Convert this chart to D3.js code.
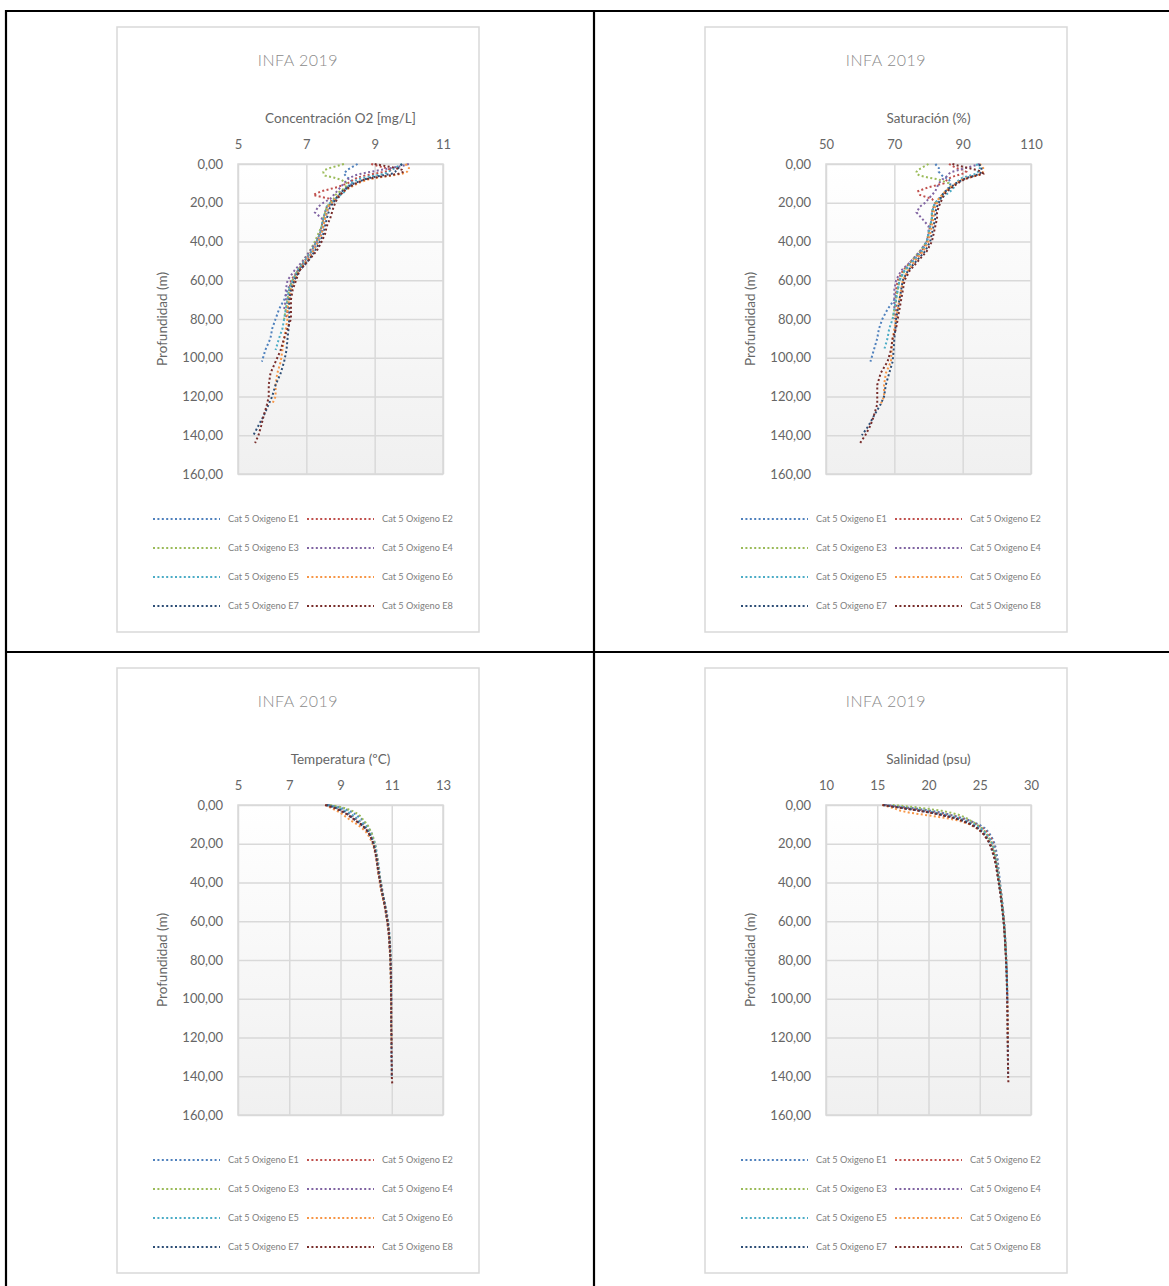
<!DOCTYPE html>
<meta charset="utf-8">
<style>
body { margin: 0; background: #fff; }
svg text { font-family: Lato, "Open Sans", sans-serif; fill: #666; }
.grid line { stroke: #d9d9d9; stroke-width: 1.5; }
.grid path { display: none; }
.ticks text { font-size: 13px; fill: #666; }
.ticks line, .ticks path { display: none; }
.serie { fill: none; stroke-width: 2; stroke-dasharray: 2,2.4; }
.legend text { font-size: 9.2px; fill: #808080; }
</style>
<svg class="chart"></svg>
<script src="https://d3js.org/d3.v7.min.js"></script>
<script>

var depths = [0,1,2,3,4,5,6,7,8,10,12,14,16,18,20,22,25,28,32,36,40,45,50,55,60,65,70,75,80,85,90,96,102,108,114,120,124,130,135,140,144];

var stations = ["Cat 5 Oxigeno E1","Cat 5 Oxigeno E2","Cat 5 Oxigeno E3","Cat 5 Oxigeno E4",
                "Cat 5 Oxigeno E5","Cat 5 Oxigeno E6","Cat 5 Oxigeno E7","Cat 5 Oxigeno E8"];
var colors = ["#4F81BD","#C0504D","#9BBB59","#8064A2","#4BACC6","#F79646","#2C4D75","#772C2A"];

// oxigeno disuelto mg/L, un arreglo por estacion (se corta donde termina el perfil)
var oxygen = [
  [8.5,8.4,8.3,8.2,8.15,8.1,8.15,8.2,8.3,8.35,8.2,8.05,7.95,7.85,7.75,7.65,7.6,7.55,7.5,7.45,7.35,7.2,7.0,6.75,6.6,6.45,6.35,6.2,6.1,6.0,5.95,5.8,5.7],
  [8.9,9.1,9.3,9.5,9.3,9.0,8.7,8.5,8.4,8.2,7.9,7.45,7.2,7.7,7.75,7.6,7.55,7.5,7.45,7.4,7.3,7.15,6.95,6.75,6.55,6.5,6.45,6.45,6.4],
  [8.1,7.9,7.7,7.55,7.5,7.5,7.55,7.8,8.0,8.2,8.15,8.0,7.85,7.8,7.7,7.6,7.55,7.5,7.45,7.35,7.25,7.1,6.9,6.75,6.6,6.5,6.45,6.4,6.35],
  [10.0,9.8,9.5,9.2,8.9,8.6,8.4,8.3,8.2,8.1,8.0,7.9,7.8,7.7,7.5,7.35,7.25,7.45,7.5,7.4,7.3,7.1,6.9,6.65,6.45,6.4,6.4,6.35],
  [9.8,9.7,9.6,9.5,9.4,9.3,9.0,8.7,8.5,8.3,8.2,8.15,8.0,7.85,7.7,7.6,7.55,7.5,7.45,7.4,7.3,7.15,6.95,6.75,6.6,6.5,6.45,6.4,6.35,6.3,6.2,6.1],
  [9.9,9.95,10.0,10.0,9.95,9.8,9.5,9.1,8.8,8.5,8.3,8.1,7.95,7.85,7.75,7.65,7.6,7.55,7.5,7.45,7.35,7.2,7.0,6.8,6.65,6.55,6.5,6.45,6.45,6.4,6.35,6.3,6.25,6.15,6.1,6.1,6.0],
  [9.8,9.75,9.7,9.65,9.6,9.5,9.2,8.9,8.7,8.4,8.2,8.05,7.95,7.85,7.8,7.7,7.65,7.6,7.55,7.5,7.4,7.25,7.05,6.8,6.65,6.55,6.5,6.5,6.5,6.48,6.45,6.42,6.35,6.25,6.1,6.0,5.9,5.75,5.6,5.45],
  [9.0,9.3,9.6,9.8,9.85,9.7,9.4,9.0,8.7,8.45,8.25,8.1,8.0,7.9,7.85,7.8,7.75,7.7,7.6,7.55,7.45,7.3,7.05,6.8,6.7,6.6,6.55,6.55,6.55,6.45,6.35,6.25,6.1,5.95,5.9,5.9,5.85,5.75,5.68,5.6,5.5]
];

// saturacion %
var saturation = [
  [82,82.5,83,83,83,83.5,84,85,86,86.5,86,85,84,83,82,81.5,81,81,80.5,80,79.5,78,75.5,73,71.5,71,70,68,66.5,65.5,65,64,63],
  [86,87,88,90,91,90,88,86.5,85.5,84.5,80,77,77.5,81,82,81.5,81,81,80.5,80,79.5,78,75,72.5,71,70.5,70.5,70.5,70],
  [80,79,78,77,76.5,76.5,77.5,80,83,86,86.5,85,84,83,82,81.5,81,81,80.5,80,79.5,77.5,75,73,71.5,71,70.5,70,69.5],
  [95,93,91,89,87,86,85.5,85,84,83,82.5,82,81,80,79,77.5,76.5,78,80,80,79.5,77.5,75,72,70.5,70,70,70],
  [94,94.5,95,95,94.5,94,92,90,89,88,87.5,86.5,85,83.5,82,81.5,81,81,80.5,80,79.5,78,75.5,73,71.5,71,70.5,70,69.5,68.5,68,67],
  [95,95.5,96,96,96,95.5,94,92,90,88,86.5,85,84,83,82.5,82,81.5,81.5,81,80.5,80,78.5,76,74,72.5,72,71.5,71,70.5,70,69.5,69.2,69,67.5,67,67,66],
  [95,95,95.5,95.5,95.5,95,93.5,91.5,90,88,86.5,85,84,83.5,83,82.5,82,82,81.5,81,80.5,79,76.5,74,72.5,72,71.5,71,70.5,70.3,70,69.8,69.5,68.5,67.5,67,66,64,62.5,60.5],
  [87,89,91.5,94,95.5,96,94,92,90.5,88.5,87,85.5,84.5,84,83.5,83,82.5,82.5,82,81.5,81,79.5,77,74.5,73,72.5,72,71.5,71,70.5,69.5,69,68,66,65,65,65,64,63,61.5,60]
];

// temperatura ºC
var temperature = [
  [8.55,8.9,9.15,9.35,9.5,9.6,9.7,9.8,9.85,10.0,10.1,10.2,10.25,10.3,10.35,10.38,10.42,10.45,10.5,10.53,10.58,10.65,10.72,10.8,10.86,10.9,10.93,10.95,10.96,10.97,10.98,10.98,10.99],
  [8.5,8.8,9.0,9.15,9.3,9.4,9.5,9.6,9.7,9.9,10.02,10.12,10.2,10.26,10.31,10.35,10.39,10.43,10.47,10.51,10.56,10.63,10.71,10.78,10.84,10.88,10.91,10.93,10.95],
  [8.6,9.0,9.25,9.45,9.6,9.7,9.8,9.85,9.9,10.05,10.12,10.2,10.26,10.3,10.34,10.37,10.4,10.44,10.48,10.52,10.57,10.64,10.71,10.78,10.84,10.89,10.92,10.94,10.95],
  [8.45,8.7,8.9,9.05,9.2,9.3,9.4,9.5,9.6,9.8,9.95,10.08,10.16,10.23,10.28,10.33,10.37,10.41,10.45,10.49,10.54,10.61,10.69,10.76,10.82,10.87,10.9,10.92],
  [8.5,8.8,9.05,9.2,9.35,9.45,9.55,9.65,9.72,9.9,10.03,10.12,10.2,10.26,10.31,10.35,10.39,10.43,10.47,10.51,10.56,10.63,10.71,10.78,10.84,10.89,10.92,10.94,10.95,10.96,10.97,10.98],
  [8.4,8.55,8.7,8.85,9.0,9.1,9.2,9.3,9.4,9.65,9.85,10.0,10.1,10.18,10.25,10.3,10.35,10.4,10.44,10.48,10.53,10.6,10.68,10.76,10.82,10.87,10.9,10.92,10.94,10.95,10.96,10.97,10.97,10.98,10.98,10.99,10.99],
  [8.45,8.7,8.9,9.05,9.2,9.3,9.4,9.5,9.6,9.8,9.97,10.08,10.16,10.23,10.28,10.32,10.37,10.41,10.45,10.5,10.55,10.62,10.7,10.77,10.83,10.88,10.91,10.93,10.95,10.96,10.97,10.97,10.98,10.98,10.98,10.99,10.99,10.99,11.0,11.0],
  [8.4,8.65,8.85,9.0,9.15,9.27,9.38,9.48,9.58,9.8,9.97,10.08,10.16,10.23,10.28,10.32,10.37,10.41,10.45,10.5,10.55,10.62,10.7,10.77,10.83,10.88,10.91,10.93,10.95,10.96,10.97,10.97,10.98,10.98,10.98,10.99,10.99,10.99,11.0,11.0,11.02]
];

// salinidad psu
var salinity = [
  [15.8,17.5,19.0,20.3,21.3,22.1,22.8,23.5,24.0,24.9,25.5,25.85,26.1,26.3,26.45,26.55,26.65,26.75,26.82,26.9,26.98,27.1,27.2,27.3,27.38,27.45,27.5,27.55,27.6,27.63,27.66,27.69,27.71],
  [15.7,17.2,18.6,19.8,20.9,21.8,22.6,23.3,23.8,24.7,25.3,25.7,26.0,26.2,26.35,26.45,26.55,26.65,26.75,26.85,26.93,27.07,27.17,27.27,27.36,27.43,27.49,27.54,27.59],
  [16.5,18.5,20.0,21.3,22.2,22.9,23.4,23.8,24.1,24.7,25.2,25.55,25.8,26.0,26.2,26.32,26.45,26.58,26.7,26.8,26.9,27.05,27.15,27.25,27.35,27.42,27.48,27.53,27.58],
  [15.6,16.9,18.2,19.4,20.5,21.4,22.2,22.9,23.4,24.3,24.9,25.35,25.65,25.9,26.1,26.25,26.4,26.55,26.68,26.78,26.88,27.03,27.14,27.24,27.34,27.41,27.47,27.52],
  [15.6,17.0,18.4,19.6,20.7,21.6,22.4,23.1,23.6,24.5,25.1,25.5,25.8,26.05,26.25,26.38,26.5,26.62,26.72,26.82,26.92,27.06,27.16,27.26,27.36,27.43,27.49,27.54,27.59,27.62,27.65,27.68],
  [15.5,16.2,16.8,17.3,18.2,19.5,20.8,22.0,22.9,24.0,24.7,25.2,25.55,25.85,26.05,26.2,26.38,26.52,26.65,26.77,26.88,27.03,27.14,27.25,27.35,27.42,27.48,27.53,27.58,27.62,27.65,27.68,27.7,27.72,27.73,27.74,27.75],
  [15.6,16.8,18.0,19.2,20.3,21.2,22.0,22.7,23.3,24.2,24.8,25.25,25.55,25.8,26.0,26.15,26.32,26.48,26.62,26.74,26.85,27.0,27.12,27.23,27.33,27.41,27.47,27.52,27.57,27.61,27.64,27.67,27.69,27.71,27.72,27.73,27.74,27.75,27.76,27.77],
  [15.5,16.7,17.9,19.1,20.2,21.1,21.9,22.6,23.2,24.1,24.75,25.2,25.5,25.75,25.95,26.1,26.28,26.45,26.6,26.72,26.84,26.99,27.11,27.22,27.32,27.4,27.46,27.51,27.56,27.6,27.63,27.66,27.68,27.7,27.71,27.72,27.73,27.74,27.76,27.77,27.8]
];

var depthTicks = [0,20,40,60,80,100,120,140,160];
var oxygenTicks = [5,7,9,11];
var saturationTicks = [50,70,90,110];
var temperatureTicks = [5,7,9,11,13];
var salinityTicks = [10,15,20,25,30];

var chartTitle = "INFA 2019";
var depthTitle = "Profundidad (m)";

var W = 1169, H = 1286;
var svg = d3.select(".chart").attr("width", W).attr("height", H);

var defs = svg.append("defs");
var grad = defs.append("linearGradient").attr("id", "bg")
    .attr("x1", 0).attr("y1", 0).attr("x2", 0).attr("y2", 1);
grad.append("stop").attr("offset", "0%").attr("stop-color", "#ffffff");
grad.append("stop").attr("offset", "100%").attr("stop-color", "#f0f0f0");

// marco de la tabla
var table = svg.append("g").attr("stroke", "#000").attr("stroke-width", 2.2);
table.append("line").attr("x1", 6).attr("y1", 11).attr("x2", W).attr("y2", 11);
table.append("line").attr("x1", 6).attr("y1", 652).attr("x2", W).attr("y2", 652);
table.append("line").attr("x1", 6).attr("y1", 10).attr("x2", 6).attr("y2", H);
table.append("line").attr("x1", 594).attr("y1", 10).attr("x2", 594).attr("y2", H);

var fmt = function(d){ return d3.format(".2f")(d).replace(".", ","); };

var panels = [
  {x: 117, y: 27,  label: "Concentración O2 [mg/L]", domain: [5, 11],  ticks: oxygenTicks,      values: oxygen},
  {x: 705, y: 27,  label: "Saturación (%)",          domain: [50, 110], ticks: saturationTicks,  values: saturation},
  {x: 117, y: 668, label: "Temperatura (ºC)",        domain: [5, 13],  ticks: temperatureTicks, values: temperature},
  {x: 705, y: 668, label: "Salinidad (psu)",         domain: [10, 30], ticks: salinityTicks,    values: salinity}
];

var fw = 362, fh = 605;
var plot = {left: 121, top: 137, width: 205, height: 310};

panels.forEach(function(p){
  var g = svg.append("g").attr("transform", "translate(" + p.x + "," + p.y + ")");

  g.append("rect").attr("width", fw).attr("height", fh)
      .attr("fill", "#fff").attr("stroke", "#d9d9d9").attr("stroke-width", 1.5);

  g.append("text").attr("x", fw / 2).attr("y", 39)
      .attr("text-anchor", "middle").style("font-size", "16px").style("font-weight", 300)
      .style("letter-spacing", "0.5px").style("fill", "#8a8a8a")
      .text(chartTitle);

  var x = d3.scaleLinear().domain(p.domain).range([0, plot.width]);
  var y = d3.scaleLinear().domain([0, 160]).range([0, plot.height]);

  var pg = g.append("g").attr("transform", "translate(" + plot.left + "," + plot.top + ")");

  pg.append("rect").attr("width", plot.width).attr("height", plot.height).attr("fill", "url(#bg)");

  pg.append("g").attr("class", "grid")
      .call(d3.axisTop(x).tickValues(p.ticks).tickSize(-plot.height).tickFormat(""));
  pg.append("g").attr("class", "grid")
      .call(d3.axisLeft(y).tickValues(depthTicks).tickSize(-plot.width).tickFormat(""));

  pg.append("rect").attr("width", plot.width).attr("height", plot.height)
      .attr("fill", "none").attr("stroke", "#d9d9d9").attr("stroke-width", 1.5);

  pg.append("g").attr("class", "ticks").attr("transform", "translate(0,-15)")
      .call(d3.axisTop(x).tickValues(p.ticks).tickSize(0).tickPadding(0).tickFormat(d3.format("d")));
  pg.append("g").attr("class", "ticks").attr("transform", "translate(-15,0)")
      .call(d3.axisLeft(y).tickValues(depthTicks).tickSize(0).tickPadding(0).tickFormat(fmt));

  pg.append("text").attr("x", plot.width / 2).attr("y", -41)
      .attr("text-anchor", "middle").style("font-size", "13.5px").text(p.label);

  pg.append("text")
      .attr("transform", "translate(-71," + (plot.height / 2) + ") rotate(-90)")
      .attr("text-anchor", "middle").style("font-size", "13.5px").text(depthTitle);

  var line = d3.line()
      .x(function(d){ return x(d.v); })
      .y(function(d){ return y(d.d); });

  p.values.forEach(function(vals, i){
    var pts = vals.map(function(v, j){ return {v: v, d: depths[j]}; });
    pg.append("path").attr("class", "serie")
        .attr("stroke", colors[i])
        .attr("d", line(pts));
  });

  var lg = g.append("g").attr("class", "legend");
  stations.forEach(function(s, i){
    var col = i % 2, row = Math.floor(i / 2);
    var lx = col === 0 ? 36 : 190, ly = 492 + row * 29;
    lg.append("line").attr("class", "serie")
        .attr("x1", lx).attr("x2", lx + 67).attr("y1", ly).attr("y2", ly)
        .attr("stroke", colors[i]);
    lg.append("text").attr("x", lx + 75).attr("y", ly + 3).text(s);
  });
});
</script>
